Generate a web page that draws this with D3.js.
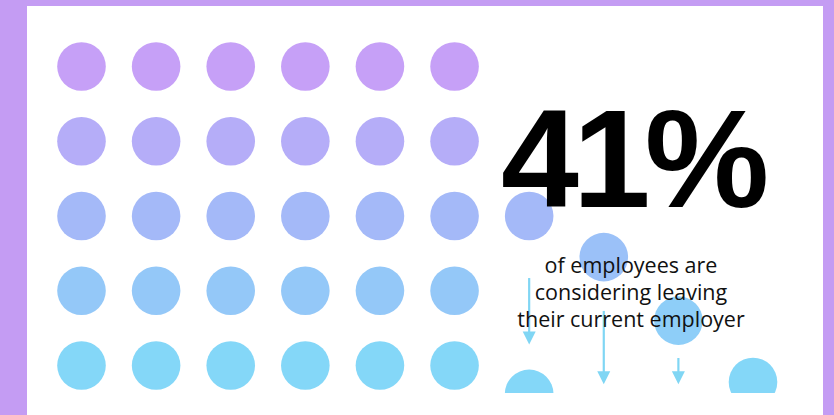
<!DOCTYPE html>
<html>
<head>
<meta charset="utf-8">
<script src="https://cdn.jsdelivr.net/npm/d3@7"></script>
<style>
html, body { margin: 0; padding: 0; background: #c49cf3; }
svg { display: block; }
</style>
</head>
<body>
<svg></svg>
<script>
var width = 834,
	height = 415;

// grid of dots: 6 columns x 5 rows, plus one extra dot on the middle row
var gridCols = [0, 1, 2, 3, 4, 5];
var gridRows = [0, 1, 2, 3, 4];
var extraDots = [{col: 6, row: 2}];

// dots "falling" out of the grid (row is fractional position)
var fallingDots = [
	{col: 7, row: 2.55},
	{col: 8, row: 3.4},
	{col: 6, row: 4.38, clipped: true},
	{col: 9, row: 4.22, clipped: true}
];

// arrows: column, start row, end row
var arrows = [
	{col: 6, from: 2.83, to: 3.72},
	{col: 7, from: 3.27, to: 4.25},
	{col: 8, from: 3.9, to: 4.25}
];

var bigLabel = "41%";
var captionLines = ["of employees are", "considering leaving", "their current employer"];

var svg = d3.select("svg")
	.attr("width", width)
	.attr("height", height);

var x = d3.scaleLinear().domain([0, 9]).range([81.5, 753]);
var y = d3.scaleLinear().domain([0, 4]).range([66.5, 365.5]);
var color = d3.scaleLinear()
	.domain([0, 2, 4])
	.range(["#c6a0f7", "#a4b9f8", "#84d7f8"]);
var r = 24.3;

// white panel
svg.append("rect")
	.attr("x", 27).attr("y", 6)
	.attr("width", 796).attr("height", height)
	.attr("fill", "#ffffff");

svg.append("clipPath").attr("id", "cut")
	.append("rect")
	.attr("x", 0).attr("y", 0)
	.attr("width", width).attr("height", 393);

var gridData = [];
gridRows.forEach(function(rw){
	gridCols.forEach(function(c){
		gridData.push({col: c, row: rw});
	});
});
gridData = gridData.concat(extraDots);

svg.append("g").selectAll("circle")
	.data(gridData)
	.enter().append("circle")
	.attr("cx", function(d){ return x(d.col); })
	.attr("cy", function(d){ return y(d.row); })
	.attr("r", r)
	.attr("fill", function(d){ return color(d.row); });

svg.append("g").selectAll("circle")
	.data(fallingDots)
	.enter().append("circle")
	.attr("cx", function(d){ return x(d.col); })
	.attr("cy", function(d){ return y(d.row); })
	.attr("r", r)
	.attr("clip-path", function(d){ return d.clipped ? "url(#cut)" : null; })
	.attr("fill", function(d){ return color(Math.min(d.row, 4)); });

var arrowColor = "#80d6f4";
var ag = svg.append("g").selectAll("g")
	.data(arrows)
	.enter().append("g");
ag.append("line")
	.attr("x1", function(d){ return x(d.col); })
	.attr("x2", function(d){ return x(d.col); })
	.attr("y1", function(d){ return y(d.from); })
	.attr("y2", function(d){ return y(d.to) - 8; })
	.attr("stroke", arrowColor)
	.attr("stroke-width", 2.2);
ag.append("path")
	.attr("d", function(d){
		var cx = x(d.col), ty = y(d.to);
		return "M" + (cx - 6.5) + "," + (ty - 13) + "L" + (cx + 6.5) + "," + (ty - 13) + "L" + cx + "," + ty + "Z";
	})
	.attr("fill", arrowColor);

svg.append("text")
	.attr("x", 501)
	.attr("y", 207)
	.attr("font-family", "'Liberation Sans', Arial, sans-serif")
	.attr("font-weight", "bold")
	.attr("font-size", 140)
	.attr("letter-spacing", -6)
	.attr("fill", "#000")
	.text(bigLabel);

svg.append("g").selectAll("text")
	.data(captionLines)
	.enter().append("text")
	.attr("x", 631)
	.attr("y", function(d, i){ return 273 + i * 27; })
	.attr("text-anchor", "middle")
	.attr("font-family", "'Open Sans', 'Noto Sans', sans-serif")
	.attr("font-size", 21.5)
	.attr("font-weight", 500)
	.attr("fill", "#111")
	.text(function(d){ return d; });
</script>
</body>
</html>
